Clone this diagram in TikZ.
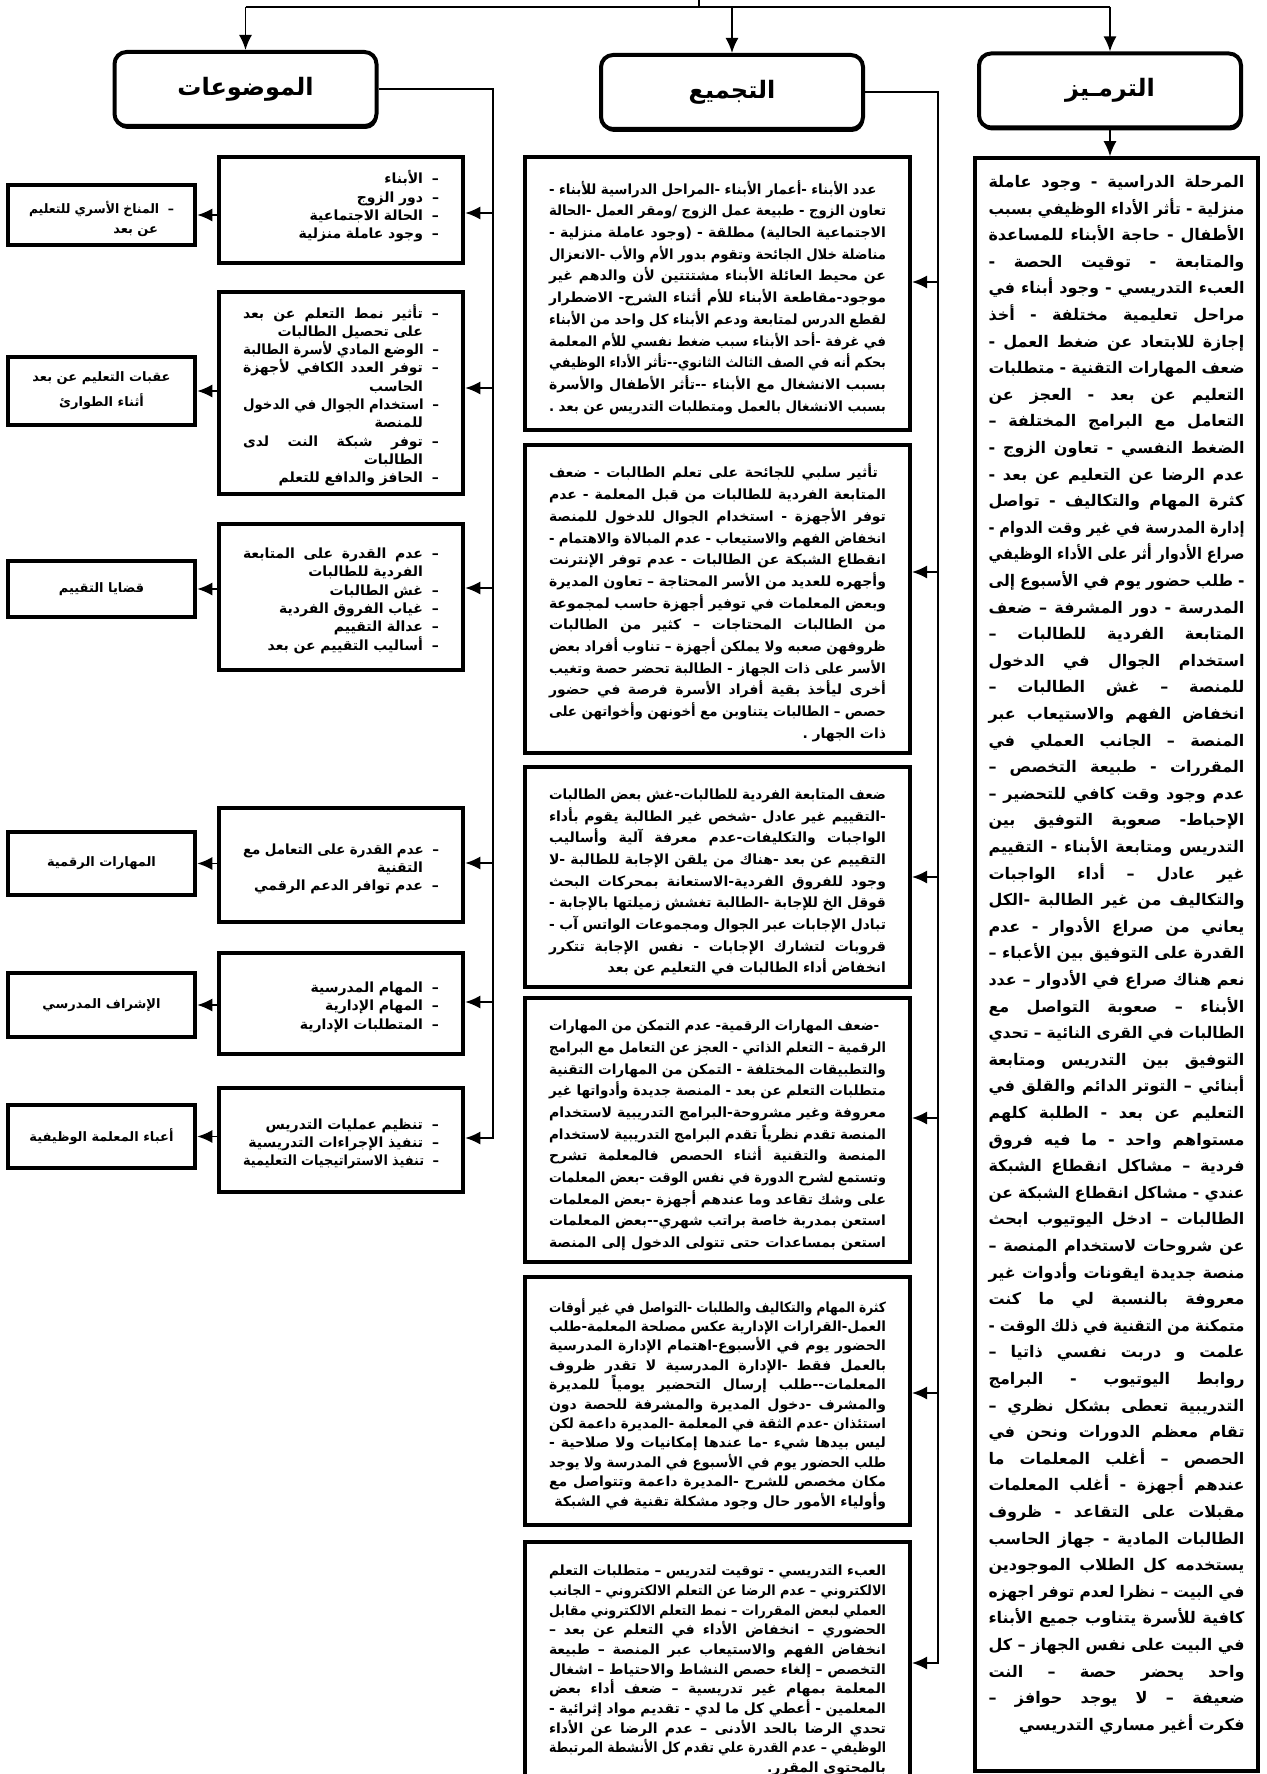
\documentclass[tikz,border=0pt]{standalone}
\usepackage{fontspec}
\usepackage{graphicx}
\usepackage{tikz}
\usetikzlibrary{arrows.meta,shadows}
\TeXXeTstate=1
\newfontfamily\arabicfont[Script=Arabic]{DejaVu Sans}
\hbadness=10000
\lineskiplimit=-100pt
% justified line: the spaces of a \beginR..\endR line become equal kerns
\ExplSyntaxOn
\seq_new:N \l__ar_words_seq
\box_new:N \l__ar_line_box
\dim_new:N \l__ar_gap_dim
\int_new:N \l__ar_gaps_int
\NewDocumentCommand \rl { m }
  {
    \seq_set_split:Nnn \l__ar_words_seq { ~ } { #1 }
    \seq_remove_all:Nn \l__ar_words_seq { }
    \int_set:Nn \l__ar_gaps_int { \seq_count:N \l__ar_words_seq - 1 }
    \hbox_set:Nn \l__ar_line_box { \seq_use:Nn \l__ar_words_seq { \kern 0pt } }
    \par \noindent
    \dim_compare:nNnTF
      { \box_wd:N \l__ar_line_box + \fontdimen 2 \font * \l__ar_gaps_int } > { \hsize }
      { \resizebox { \hsize } { \height } { \hbox:n { #1 } } }
      {
        \int_compare:nNnTF { \l__ar_gaps_int } > { 0 }
          { \dim_set:Nn \l__ar_gap_dim { ( \hsize - \box_wd:N \l__ar_line_box ) / \l__ar_gaps_int } }
          { \dim_zero:N \l__ar_gap_dim }
        \hbox:n { \seq_use:Nn \l__ar_words_seq { \kern \l__ar_gap_dim } }
      }
    \par
  }
% last line of a paragraph: flush right
\NewDocumentCommand \rlast { m }
  {
    \hbox_set:Nn \l__ar_line_box { #1 }
    \par \noindent
    \dim_compare:nNnTF { \box_wd:N \l__ar_line_box } > { \hsize }
      { \resizebox { \hsize } { \height } { \box_use:N \l__ar_line_box } }
      { \hbox_to_wd:nn { \hsize } { \hfil \box_use:N \l__ar_line_box } }
    \par
  }
\ExplSyntaxOff
\newcommand\dsh{–\kern9pt}
\newcommand\ind{\kern16pt}
\newcommand\gap[1]{\kern#1}
\newcommand\padb[1]{\par\nointerlineskip\vbox to #1{}}
\tikzstyle{header} = [rectangle, draw, fill=white, line width=4pt, rounded corners=12pt, minimum width=262pt,
    minimum height=74pt, drop shadow={shadow xshift=1pt, shadow yshift=-3pt, opacity=1, fill=black},
    font=\arabicfont\bfseries\fontsize{24}{30}\selectfont]
\tikzstyle{codes} = [rectangle, draw, line width=3.5pt, text width=256pt, inner xsep=13.5pt, inner ysep=0pt,
    minimum height=1613pt, font=\arabicfont\bfseries\fontsize{16}{26.6}\selectfont]
\tikzstyle{group} = [rectangle, draw, line width=4pt, text width=337pt, inner xsep=24pt, inner ysep=0pt,
    font=\arabicfont\bfseries\fontsize{14}{21.7}\selectfont]
\tikzstyle{topic} = [rectangle, draw, line width=4.5pt, text width=196pt, inner xsep=24pt, inner ysep=0pt,
    font=\arabicfont\bfseries\fontsize{14}{18.3}\selectfont]
\tikzstyle{theme} = [rectangle, draw, line width=4.5pt, minimum width=187pt, align=center,
    font=\arabicfont\bfseries\fontsize{13}{25}\selectfont]
\tikzstyle{line} = [draw, line width=1.8pt, -{Latex[length=15pt,width=13pt]}]

\begin{document}
\begin{tikzpicture}[x=1pt,y=-1pt]
  \useasboundingbox (0,0) rectangle (1266,1774);

  % headers
  \node [header] (hl) at (245.5,89) {\beginR الموضوعات\endR};
  \node [header] (hm) at (732,92) {\beginR التجميع\endR};
  \node [header] (hr) at (1110,90.5) {\beginR الترمـيز\endR};

  % coding column
  \node [codes] (rc) at (1116.5,964.5) {%
    \rl{\beginR المرحلة الدراسية - وجود عاملة\endR}
    \rl{\beginR منزلية - تأثر الأداء الوظيفي بسبب\endR}
    \rl{\beginR الأطفال - حاجة الأبناء للمساعدة\endR}
    \rl{\beginR والمتابعة - توقيت الحصة -\endR}
    \rl{\beginR العبء التدريسي - وجود أبناء في\endR}
    \rl{\beginR مراحل تعليمية مختلفة - أخذ\endR}
    \rl{\beginR إجازة للابتعاد عن ضغط العمل -\endR}
    \rl{\beginR ضعف المهارات التقنية - متطلبات\endR}
    \rl{\beginR التعليم عن بعد - العجز عن\endR}
    \rl{\beginR التعامل مع البرامج المختلفة –\endR}
    \rl{\beginR الضغط النفسي - تعاون الزوج -\endR}
    \rl{\beginR عدم الرضا عن التعليم عن بعد -\endR}
    \rl{\beginR كثرة المهام والتكاليف - تواصل\endR}
    \rl{\beginR إدارة المدرسة في غير وقت الدوام -\endR}
    \rl{\beginR صراع الأدوار أثر على الأداء الوظيفي\endR}
    \rl{\beginR - طلب حضور يوم في الأسبوع إلى\endR}
    \rl{\beginR المدرسة - دور المشرفة – ضعف\endR}
    \rl{\beginR المتابعة الفردية للطالبات –\endR}
    \rl{\beginR استخدام الجوال في الدخول\endR}
    \rl{\beginR للمنصة – غش الطالبات –\endR}
    \rl{\beginR انخفاض الفهم والاستيعاب عبر\endR}
    \rl{\beginR المنصة – الجانب العملي في\endR}
    \rl{\beginR المقررات - طبيعة التخصص –\endR}
    \rl{\beginR عدم وجود وقت كافي للتحضير –\endR}
    \rl{\beginR الإحباط- صعوبة التوفيق بين\endR}
    \rl{\beginR التدريس ومتابعة الأبناء - التقييم\endR}
    \rl{\beginR غير عادل – أداء الواجبات\endR}
    \rl{\beginR والتكاليف من غير الطالبة -الكل\endR}
    \rl{\beginR يعاني من صراع الأدوار - عدم\endR}
    \rl{\beginR القدرة على التوفيق بين الأعباء –\endR}
    \rl{\beginR نعم هناك صراع في الأدوار – عدد\endR}
    \rl{\beginR الأبناء – صعوبة التواصل مع\endR}
    \rl{\beginR الطالبات في القرى النائية – تحدي\endR}
    \rl{\beginR التوفيق بين التدريس ومتابعة\endR}
    \rl{\beginR أبنائي – التوتر الدائم والقلق في\endR}
    \rl{\beginR التعليم عن بعد - الطلبة كلهم\endR}
    \rl{\beginR مستواهم واحد - ما فيه فروق\endR}
    \rl{\beginR فردية – مشاكل انقطاع الشبكة\endR}
    \rl{\beginR عندي - مشاكل انقطاع الشبكة عن\endR}
    \rl{\beginR الطالبات – ادخل اليوتيوب ابحث\endR}
    \rl{\beginR عن شروحات لاستخدام المنصة –\endR}
    \rl{\beginR منصة جديدة ايقونات وأدوات غير\endR}
    \rl{\beginR معروفة بالنسبة لي ما كنت\endR}
    \rl{\beginR متمكنة من التقنية في ذلك الوقت -\endR}
    \rl{\beginR علمت و دربت نفسي ذاتيا –\endR}
    \rl{\beginR روابط اليوتيوب - البرامج\endR}
    \rl{\beginR التدريبية تعطى بشكل نظري –\endR}
    \rl{\beginR تقام معظم الدورات ونحن في\endR}
    \rl{\beginR الحصص – أغلب المعلمات ما\endR}
    \rl{\beginR عندهم أجهزة - أغلب المعلمات\endR}
    \rl{\beginR مقبلات على التقاعد - ظروف\endR}
    \rl{\beginR الطالبات المادية - جهاز الحاسب\endR}
    \rl{\beginR يستخدمه كل الطلاب الموجودين\endR}
    \rl{\beginR في البيت – نظرا لعدم توفر اجهزه\endR}
    \rl{\beginR كافية للأسرة يتناوب جميع الأبناء\endR}
    \rl{\beginR في البيت على نفس الجهاز – كل\endR}
    \rl{\beginR واحد يحضر حصة – النت\endR}
    \rl{\beginR ضعيفة – لا يوجد حوافز –\endR}
    \rlast{\beginR فكرت أغير مساري التدريسي\endR}\padb{34pt}};

  % grouping column
  \node [group, minimum height=273pt] (m1) at (717.5,293.5) {%
    \rl{\beginR\gap{10pt}عدد الأبناء -أعمار الأبناء -المراحل الدراسية للأبناء -\endR}
    \rl{\beginR تعاون الزوج - طبيعة عمل الزوج /ومقر العمل -الحالة\endR}
    \rl{\beginR الاجتماعية الحالية) مطلقة - (وجود عاملة منزلية -\endR}
    \rl{\beginR مناضلة خلال الجائحة وتقوم بدور الأم والأب -الانعزال\endR}
    \rl{\beginR عن محيط العائلة الأبناء مشتتتين لأن والدهم غير\endR}
    \rl{\beginR موجود-مقاطعة الأبناء للأم أثناء الشرح- الاضطرار\endR}
    \rl{\beginR لقطع الدرس لمتابعة ودعم الأبناء كل واحد من الأبناء\endR}
    \rl{\beginR في غرفة -أحد الأبناء سبب ضغط نفسي للأم المعلمة\endR}
    \rl{\beginR بحكم أنه في الصف الثالث الثانوي--تأثر الأداء الوظيفي\endR}
    \rl{\beginR بسبب الانشغال مع الأبناء --تأثر الأطفال والأسرة\endR}
    \rlast{\beginR بسبب الانشغال بالعمل ومتطلبات التدريس عن بعد .\endR}};
  \node [group, minimum height=308pt] (m2) at (717.5,599) {%
    \rl{\beginR\gap{8pt}تأثير سلبي للجائحة على تعلم الطالبات - ضعف\endR}
    \rl{\beginR المتابعة الفردية للطالبات من قبل المعلمة - عدم\endR}
    \rl{\beginR توفر الأجهزة - استخدام الجوال للدخول للمنصة\endR}
    \rl{\beginR انخفاض الفهم والاستيعاب - عدم المبالاة والاهتمام -\endR}
    \rl{\beginR انقطاع الشبكة عن الطالبات - عدم توفر الإنترنت\endR}
    \rl{\beginR وأجهره للعديد من الأسر المحتاجة – تعاون المديرة\endR}
    \rl{\beginR وبعض المعلمات في توفير أجهزة حاسب لمجموعة\endR}
    \rl{\beginR من الطالبات المحتاجات – كثير من الطالبات\endR}
    \rl{\beginR ظروفهن صعبه ولا يملكن أجهزة – تناوب أفراد بعض\endR}
    \rl{\beginR الأسر على ذات الجهاز - الطالبة تحضر حصة وتغيب\endR}
    \rl{\beginR أخرى ليأخذ بقية أفراد الأسرة فرصة في حضور\endR}
    \rl{\beginR حصص – الطالبات يتناوبن مع أخونهن وأخواتهن على\endR}
    \rlast{\beginR ذات الجهار .\endR}};
  \node [group, minimum height=220pt] (m3) at (717.5,877) {%
    \rl{\beginR ضعف المتابعة الفردية للطالبات-غش بعض الطالبات\endR}
    \rl{\beginR -التقييم غير عادل -شخص غير الطالبة يقوم بأداء\endR}
    \rl{\beginR الواجبات والتكليفات-عدم معرفة آلية وأساليب\endR}
    \rl{\beginR التقييم عن بعد -هناك من يلقن الإجابة للطالبة -لا\endR}
    \rl{\beginR وجود للفروق الفردية-الاستعانة بمحركات البحث\endR}
    \rl{\beginR قوقل الخ للإجابة -الطالبة تغشش زميلتها بالإجابة -\endR}
    \rl{\beginR تبادل الإجابات عبر الجوال ومجموعات الواتس آب -\endR}
    \rl{\beginR قروبات لتشارك الإجابات - نفس الإجابة تتكرر\endR}
    \rlast{\beginR انخفاض أداء الطالبات في التعليم عن بعد\endR}};
  \node [group, minimum height=264pt] (m4) at (717.5,1130) {%
    \rl{\beginR\gap{7pt}-ضعف المهارات الرقمية- عدم التمكن من المهارات\endR}
    \rl{\beginR الرقمية – التعلم الذاتي - العجز عن التعامل مع البرامج\endR}
    \rl{\beginR والتطبيقات المختلفة - التمكن من المهارات التقنية\endR}
    \rl{\beginR متطلبات التعلم عن بعد - المنصة جديدة وأدواتها غير\endR}
    \rl{\beginR معروفة وغير مشروحة-البرامج التدريبية لاستخدام\endR}
    \rl{\beginR المنصة تقدم نظرياً تقدم البرامج التدريبية لاستخدام\endR}
    \rl{\beginR المنصة والتقنية أثناء الحصص فالمعلمة تشرح\endR}
    \rl{\beginR وتستمع لشرح الدورة في نفس الوقت -بعض المعلمات\endR}
    \rl{\beginR على وشك تقاعد وما عندهم أجهزة -بعض المعلمات\endR}
    \rl{\beginR استعن بمدربة خاصة براتب شهري--بعض المعلمات\endR}
    \rl{\beginR استعن بمساعدات حتى تتولى الدخول إلى المنصة\endR}};
  \node [group, minimum height=248pt, font=\arabicfont\bfseries\fontsize{14}{19.4}\selectfont] (m5) at (717.5,1401) {%
    \rl{\beginR كثرة المهام والتكاليف والطلبات -التواصل في غير أوقات\endR}
    \rl{\beginR العمل-القرارات الإدارية عكس مصلحة المعلمة-طلب\endR}
    \rl{\beginR الحضور يوم في الأسبوع-اهتمام الإدارة المدرسية\endR}
    \rl{\beginR بالعمل فقط -الإدارة المدرسية لا تقدر ظروف\endR}
    \rl{\beginR المعلمات--طلب إرسال التحضير يومياً للمديرة\endR}
    \rl{\beginR والمشرف -دخول المديرة والمشرفة للحصة دون\endR}
    \rl{\beginR استئذان -عدم الثقة في المعلمة -المديرة داعمة لكن\endR}
    \rl{\beginR ليس بيدها شيء -ما عندها إمكانيات ولا صلاحية -\endR}
    \rl{\beginR طلب الحضور يوم في الأسبوع في المدرسة ولا يوجد\endR}
    \rl{\beginR مكان مخصص للشرح -المديرة داعمة وتتواصل مع\endR}
    \rlast{\beginR وأولياء الأمور حال وجود مشكلة تقنية في الشبكة\endR}};
  \node [group, minimum height=248pt, font=\arabicfont\bfseries\fontsize{14}{19.7}\selectfont] (m6) at (717.5,1666) {%
    \rl{\beginR العبء التدريسي - توقيت لتدريس – متطلبات التعلم\endR}
    \rl{\beginR الالكتروني – عدم الرضا عن التعلم الالكتروني – الجانب\endR}
    \rl{\beginR العملي لبعض المقررات – نمط التعلم الالكتروني مقابل\endR}
    \rl{\beginR الحضوري – انخفاض الأداء في التعلم عن بعد –\endR}
    \rl{\beginR انخفاض الفهم والاستيعاب عبر المنصة – طبيعة\endR}
    \rl{\beginR التخصص – إلغاء حصص النشاط والاحتياط – اشغال\endR}
    \rl{\beginR المعلمة بمهام غير تدريسية – ضعف أداء بعض\endR}
    \rl{\beginR المعلمين - أعطي كل ما لدي - تقديم مواد إثرائية -\endR}
    \rl{\beginR تحدي الرضا بالحد الأدنى – عدم الرضا عن الأداء\endR}
    \rl{\beginR الوظيفي – عدم القدرة علي تقدم كل الأنشطة المرتبطة\endR}
    \rlast{\beginR بالمحتوى المقرر.\endR}};

  % topics column
  \node [topic, minimum height=106pt] (l1) at (341,210) {%
    \rlast{\beginR\dsh الأبناء\endR}
    \rlast{\beginR\dsh دور الزوج\endR}
    \rlast{\beginR\dsh الحالة الاجتماعية\endR}
    \rlast{\beginR\dsh وجود عاملة منزلية\endR}\padb{12pt}};
  \node [topic, minimum height=202pt] (l2) at (341,393) {%
    \rl{\beginR\dsh تأثير نمط التعلم عن بعد\endR}
    \rlast{\beginR\ind على تحصيل الطالبات\endR}
    \rlast{\beginR\dsh الوضع المادي لأسرة الطالبة\endR}
    \rl{\beginR\dsh توفر العدد الكافي لأجهزة\endR}
    \rlast{\beginR\ind الحاسب\endR}
    \rl{\beginR\dsh استخدام الجوال في الدخول\endR}
    \rlast{\beginR\ind للمنصة\endR}
    \rl{\beginR\dsh توفر شبكة النت لدى\endR}
    \rlast{\beginR\ind الطالبات\endR}
    \rlast{\beginR\dsh الحافز والدافع للتعلم\endR}};
  \node [topic, minimum height=146pt] (l3) at (341,597) {%
    \rl{\beginR\dsh عدم القدرة على المتابعة\endR}
    \rlast{\beginR\ind الفردية للطالبات\endR}
    \rlast{\beginR\dsh غش الطالبات\endR}
    \rlast{\beginR\dsh غياب الفروق الفردية\endR}
    \rlast{\beginR\dsh عدالة التقييم\endR}
    \rlast{\beginR\dsh أساليب التقييم عن بعد\endR}};
  \node [topic, minimum height=114pt] (l4) at (341,865) {%
    \rl{\beginR\dsh عدم القدرة على التعامل مع\endR}
    \rlast{\beginR\ind التقنية\endR}
    \rlast{\beginR\dsh عدم توافر الدعم الرقمي\endR}};
  \node [topic, minimum height=101pt] (l5) at (341,1003.5) {%
    \rlast{\beginR\dsh المهام المدرسية\endR}
    \rlast{\beginR\dsh المهام الإدارية\endR}
    \rlast{\beginR\dsh المتطلبات الإدارية\endR}};
  \node [topic, minimum height=104pt] (l6) at (341,1140) {%
    \rlast{\beginR\dsh تنظيم عمليات التدريس\endR}
    \rlast{\beginR\dsh تنفيذ الإجراءات التدريسية\endR}
    \rlast{\beginR\dsh تنفيذ الاستراتيجيات التعليمية\endR}};

  % themes
  \node [theme, minimum height=60pt, text width=145pt, inner xsep=21pt, font=\arabicfont\bfseries\fontsize{13}{20}\selectfont] (s1) at (101.5,215) {%
    \rl{\beginR\dsh المناخ الأسري للتعليم\endR}
    \rlast{\beginR\ind عن بعد\endR}};
  \node [theme, minimum height=68pt] (s2) at (101.5,391) {\beginR عقبات التعليم عن بعد\endR\\\beginR أثناء الطوارئ\endR};
  \node [theme, minimum height=56pt] (s3) at (101.5,589) {\beginR قضايا التقييم\endR};
  \node [theme, minimum height=63pt] (s4) at (101.5,863.5) {\beginR المهارات الرقمية\endR};
  \node [theme, minimum height=64pt] (s5) at (101.5,1005) {\beginR الإشراف المدرسي\endR};
  \node [theme, minimum height=63pt] (s6) at (101.5,1136.5) {\beginR أعباء المعلمة الوظيفية\endR};

  % connectors
  \coordinate (stub) at (699,0);
  \coordinate (top) at (699,7);
  \coordinate (la1) at (493,213);
  \coordinate (la2) at (493,388);
  \coordinate (la3) at (493,588);
  \coordinate (la4) at (493,863);
  \coordinate (la5) at (493,1002);
  \coordinate (la6) at (493,1138);
  \coordinate (ma1) at (938,282);
  \coordinate (ma2) at (938,572);
  \coordinate (ma3) at (938,877);
  \coordinate (ma4) at (938,1118);
  \coordinate (ma5) at (938,1393);
  \coordinate (ma6) at (938,1663);

  \path [draw, line width=1.8pt] (stub) -- (top);
  \path [draw, line width=1.8pt] (hl.north |- top) -- (hr.north |- top);
  \path [line] (hl.north |- top) -- (hl.north);
  \path [line] (hm.north |- top) -- (hm.north);
  \path [line] (hr.north |- top) -- (hr.north);
  \path [line] (hr.south) -- (hr.south |- rc.north);

  \path [line] (hm.east) -| (ma6) -- (ma6 -| m6.east);
  \path [line] (ma1) -- (ma1 -| m1.east);
  \path [line] (ma2) -- (ma2 -| m2.east);
  \path [line] (ma3) -- (ma3 -| m3.east);
  \path [line] (ma4) -- (ma4 -| m4.east);
  \path [line] (ma5) -- (ma5 -| m5.east);

  \path [line] (hl.east) -| (la6) -- (la6 -| l6.east);
  \path [line] (la1) -- (la1 -| l1.east);
  \path [line] (la2) -- (la2 -| l2.east);
  \path [line] (la3) -- (la3 -| l3.east);
  \path [line] (la4) -- (la4 -| l4.east);
  \path [line] (la5) -- (la5 -| l5.east);

  \path [line] (s1.east -| l1.west) -- (s1.east);
  \path [line] (s2.east -| l2.west) -- (s2.east);
  \path [line] (s3.east -| l3.west) -- (s3.east);
  \path [line] (s4.east -| l4.west) -- (s4.east);
  \path [line] (s5.east -| l5.west) -- (s5.east);
  \path [line] (s6.east -| l6.west) -- (s6.east);
\end{tikzpicture}
\end{document}
